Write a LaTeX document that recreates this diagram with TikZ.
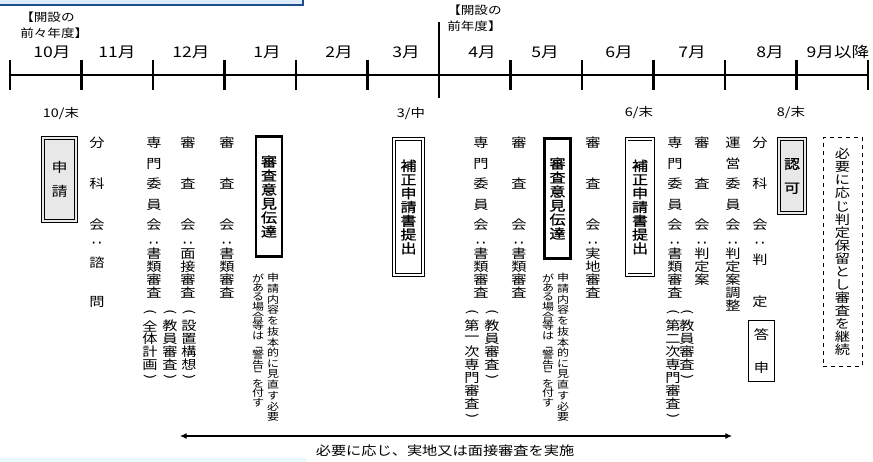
\documentclass[tikz,border=0pt]{standalone}
\usepackage{fontspec}
\setmainfont{Noto Sans CJK JP}[FakeStretch=1.2]
\newfontfamily\futoji{Noto Sans CJK JP}[FakeStretch=1.2, FakeBold=1]
\usepackage{graphicx}
\usetikzlibrary{arrows.meta}

\definecolor{wakuao}{RGB}{31,78,140}
\definecolor{usuao}{RGB}{221,235,250}
\definecolor{usumizu}{RGB}{232,250,252}

\newcommand{\rot}[1]{\rotatebox[origin=c]{-90}{#1}}
% one column of vertical text, one node per character
\newcommand{\tate}[6][moji]{%
  \foreach \c [count=\i] in {#6}
    \node[#1] (#2\i) at (#3,{#4+(\i-1)*#5}) {\c};
}
% committee column: head, colon, body
\newcommand{\retsu}[5]{%
  \tate{#1h}{#2}{143}{#3}{#4}
  \node[moji] (#1c) at (#2,243) {\rot{：}};
  \tate{#1t}{#2}{254}{13}{#5}
}

\tikzset{
  moji/.style={inner sep=0pt, font=\fontsize{9.5}{10}\selectfont},
  komoji/.style={inner sep=0pt, font=\fontsize{7.5}{8}\selectfont},
  tsuki/.style={inner sep=0pt, font=\fontsize{11}{12}\selectfont},
  hizuke/.style={inner sep=0pt, font=\fontsize{9}{10}\selectfont},
  midashi/.style={inner sep=0pt, align=left, font=\fontsize{8.5}{12}\selectfont},
  iken/.style={draw, line width=2pt, align=center, inner sep=0pt,
    minimum width=19.5pt, minimum height=90pt, font=\futoji\fontsize{10}{10.5}\selectfont},
  hosei/.style={draw, double, double distance=1.5pt, line width=0.6pt, fill=white, align=center,
    inner sep=0pt, minimum height=102pt, font=\futoji\fontsize{10}{10.3}\selectfont},
  haiiro/.style={draw, double=gray!18, double distance=1.5pt, line width=0.8pt, fill=gray!18,
    align=center, inner sep=0pt, font=\fontsize{10}{18}\selectfont},
  toushin/.style={draw, line width=0.8pt, align=center, inner sep=0pt,
    minimum width=19.5pt, minimum height=45.7pt, font=\fontsize{9.5}{24.75}\selectfont},
  horyu/.style={draw, dashed, line width=0.5pt, align=center, inner sep=0pt,
    minimum width=29pt, minimum height=172pt, font=\fontsize{9.5}{9.8}\selectfont},
}

\begin{document}
\begin{tikzpicture}[x=0.75pt, y=-0.75pt]
  \useasboundingbox (0,0) rectangle (873,461);
  \draw[draw=wakuao, line width=1.5pt, fill=usuao] (-10,-10) rectangle (303,5);
  \fill[usumizu] (0,458) rectangle (307,462);

  % time line
  \draw[line width=2.2pt] (10,75) -- (868,75);
  \foreach \i in {0,...,12}
    \draw[line width=2.2pt] ({10+71.5*\i},60) -- ({10+71.5*\i},90);
  \draw[line width=2.2pt] (439,22) -- (439,98);
  \foreach \x/\m in {52/10月, 117/11月, 191/12月, 267/1月, 339/2月, 406/3月,
                     482/4月, 545/5月, 619/6月, 692/7月, 770/8月, 838/9月以降}
    \node[tsuki] (m\x) at (\x,52) {\m};
  \node[midashi, anchor=west] (zenzen) at (20,25) {【開設の\\前々年度】};
  \node[midashi, anchor=west] (zen) at (447,18) {【開設の\\前年度】};

  \node[hizuke] (d10) at (61,114) {10/末};
  \node[hizuke] (d3) at (411,114) {3/中};
  \node[hizuke] (d6) at (639,113) {6/末};
  \node[hizuke] (d8) at (791,113) {8/末};

  % boxes
  \node[haiiro, minimum width=24.6pt, minimum height=62pt] (shinsei) at (59.5,179.5) {申\\請};
  \node[iken] (ikenA) at (269,196.5) {審\\査\\意\\見\\伝\\達};
  \node[hosei, minimum width=21.5pt] (hoseiA) at (408.5,207) {補\\正\\申\\請\\書\\提\\出};
  \node[iken] (ikenB) at (557.5,198.5) {審\\査\\意\\見\\伝\\達};
  \node[hosei, minimum width=20pt] (hoseiB) at (640,207) {補\\正\\申\\請\\書\\提\\出};
  \node[haiiro, minimum width=19.4pt, minimum height=55.4pt, font=\futoji\fontsize{10}{18}\selectfont]
    (ninka) at (792,176) {認\\可};
  \node[toushin] (toushin) at (761.5,351) {答\\申};
  \node[horyu] (horyu) at (842.5,252)
    {必\\要\\に\\応\\じ\\判\\定\\保\\留\\と\\し\\審\\査\\を\\継\\続};

  % committee columns
  \tate{shimonh}{97}{143}{41}{分,科,会}
  \node[moji] (shimonc) at (97,243) {\rot{：}};
  \tate{shimont}{97}{263}{39}{諮,問}
  \retsu{senmonA}{154}{20.5}{専,門,委,員,会}{書,類,審,査}
  \retsu{mensetsu}{188}{41}{審,査,会}{面,接,審,査}
  \retsu{shoruiA}{227}{41}{審,査,会}{書,類,審,査}
  \retsu{senmonB}{481}{20.5}{専,門,委,員,会}{書,類,審,査}
  \retsu{shoruiB}{519}{41}{審,査,会}{書,類,審,査}
  \retsu{jitchi}{593}{41}{審,査,会}{実,地,審,査}
  \retsu{senmonC}{675}{20.5}{専,門,委,員,会}{書,類,審,査}
  \retsu{hanteian}{702}{41}{審,査,会}{判,定,案}
  \retsu{unei}{733}{20.5}{運,営,委,員,会}{判,定,案,調,整}
  \tate{hanteih}{760}{143}{41}{分,科,会}
  \node[moji] (hanteic) at (760,243) {\rot{：}};
  \tate{hanteit}{760}{260}{42}{判,定}

  % remarks in brackets
  \tate{zentai}{150}{313}{13}{\rot{(},全,体,計,画,\rot{)}}
  \tate{secchi}{189}{313}{13}{\rot{(},設,置,構,想,\rot{)}}
  \tate{kyouinA}{170}{313}{13}{\rot{(},教,員,審,査,\rot{)}}
  \tate{kyouinB}{492}{313}{13}{\rot{(},教,員,審,査,\rot{)}}
  \tate{daiichi}{472}{313}{13}{\rot{(},第,一,次,専,門,審,査,\rot{)}}
  \tate{kyouinC}{687}{313}{13}{\rot{(},教,員,審,査,\rot{)}}
  \tate{daini}{673}{313}{13}{\rot{(},第,二,次,専,門,審,査,\rot{)}}

  % warning notes
  \tate[komoji]{chuiAr}{273}{278}{10.7}{申,請,内,容,を,抜,本,的,に,見,直,す,必,要}
  \tate[komoji]{chuiAl}{258}{278}{9.6}{が,あ,る,場,合,等,は,\rot{「},警,告,\rot{」},を,付,す}
  \tate[komoji]{chuiBr}{563}{278}{10.7}{申,請,内,容,を,抜,本,的,に,見,直,す,必,要}
  \tate[komoji]{chuiBl}{548}{278}{9.6}{が,あ,る,場,合,等,は,\rot{「},警,告,\rot{」},を,付,す}

  % on-site or interview review
  \coordinate (yajiL) at (180,436);
  \coordinate (yajiR) at (732,436);
  \draw[{Latex[length=5pt,width=4.5pt]}-{Latex[length=5pt,width=4.5pt]}, line width=0.8pt] (yajiL) -- (yajiR);
  \node[moji] (jisshi) at (445,451) {必要に応じ、実地又は面接審査を実施};
\end{tikzpicture}
\end{document}
